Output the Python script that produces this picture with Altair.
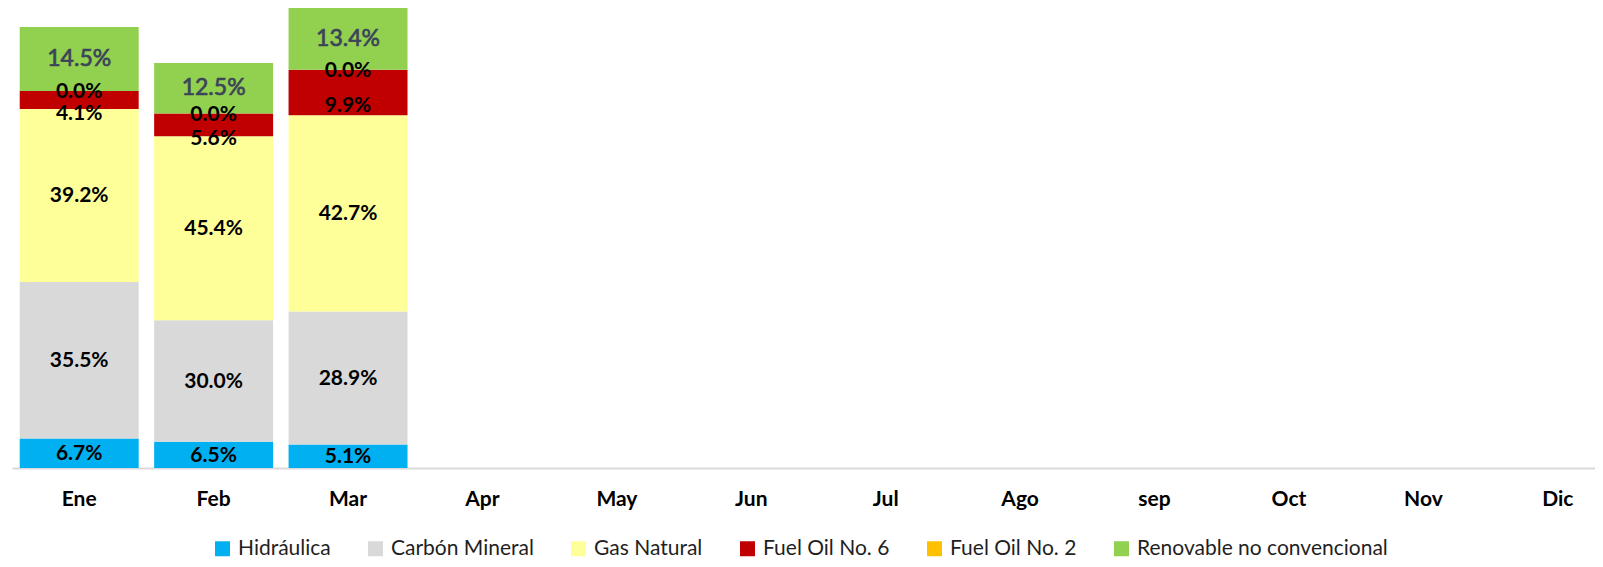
import altair as alt
import pandas as pd

# ---------------- data ----------------
months = ["Ene", "Feb", "Mar", "Apr", "May", "Jun", "Jul", "Ago", "sep", "Oct", "Nov", "Dic"]
data_months = ["Ene", "Feb", "Mar"]

series = ["Hidráulica", "Carbón Mineral", "Gas Natural",
          "Fuel Oil No. 6", "Fuel Oil No. 2", "Renovable no convencional"]
colors = ["#00B0F0", "#D9D9D9", "#FFFF99", "#C00000", "#FFC000", "#92D050"]

# estimated generation (bar segment sizes, arbitrary units)
hidraulica = [29.5, 26.3, 23.5]
carbon = [156.6, 121.5, 132.9]
gas = [172.9, 183.9, 196.4]
fuel6 = [18.1, 22.7, 45.5]
fuel2 = [0.0, 0.0, 0.0]
renovable = [63.9, 50.6, 61.6]

# percentage labels shown on the segments
pct_hidraulica = [6.7, 6.5, 5.1]
pct_carbon = [35.5, 30.0, 28.9]
pct_gas = [39.2, 45.4, 42.7]
pct_fuel6 = [4.1, 5.6, 9.9]
pct_fuel2 = [0.0, 0.0, 0.0]
pct_renovable = [14.5, 12.5, 13.4]

values = [hidraulica, carbon, gas, fuel6, fuel2, renovable]
pcts = [pct_hidraulica, pct_carbon, pct_gas, pct_fuel6, pct_fuel2, pct_renovable]

rows = []
for si, s in enumerate(series):
    for mi, m in enumerate(data_months):
        rows.append({"month": m, "serie": s, "order": si,
                     "value": values[si][mi], "pct": pcts[si][mi]})
df = pd.DataFrame(rows)

FONT = "Lato"

x_enc = alt.X("month:N",
              scale=alt.Scale(domain=months, range=[0, 1613],
                              paddingInner=0.115, paddingOuter=0.0575),
              axis=alt.Axis(title=None, labelAngle=0, ticks=False, tickSize=0,
                            labelPadding=20, labelFont=FONT, labelFontSize=21,
                            labelFontWeight="bold", labelColor="#000000",
                            domainColor="#D9D9D9", domainWidth=2,
                            grid=False))
y_scale = alt.Scale(domain=[0, 460], nice=False, zero=True)

base = alt.Chart(df).transform_stack(
    stack="value", groupby=["month"], as_=["y0", "y1"],
    sort=[alt.SortField("order", order="ascending")]
).transform_calculate(
    mid="(datum.y0 + datum.y1) / 2",
    lbl="format(datum.pct, '.1f') + '%'"
)

bars = base.mark_bar().encode(
    x=x_enc,
    y=alt.Y("y0:Q", scale=y_scale, axis=None),
    y2="y1:Q",
    color=alt.Color("serie:N",
                    scale=alt.Scale(domain=series, range=colors),
                    legend=alt.Legend(title=None, orient="none",
                                      legendX=200, legendY=530,
                                      direction="horizontal", columns=6,
                                      symbolType="square", symbolSize=225,
                                      symbolStrokeWidth=0, symbolOpacity=1,
                                      labelFont=FONT, labelFontSize=21,
                                      labelColor="#1F1F1F", labelOffset=5,
                                      labelLimit=600,
                                      columnPadding=34)),
)

text_main = base.transform_filter(
    alt.FieldOneOfPredicate(field="serie",
                            oneOf=["Hidráulica", "Carbón Mineral", "Gas Natural", "Fuel Oil No. 2"])
).mark_text(font=FONT, fontSize=21, fontWeight="bold", color="#000000",
            baseline="middle", dy=1).encode(
    x=alt.X("month:N", scale=alt.Scale(domain=months)),
    y=alt.Y("mid:Q", scale=y_scale),
    text="lbl:N",
)

text_fo6 = base.transform_filter(
    alt.datum.serie == "Fuel Oil No. 6"
).mark_text(font=FONT, fontSize=21, fontWeight="bold", color="#000000",
            baseline="middle", dy=14).encode(
    x=alt.X("month:N", scale=alt.Scale(domain=months)),
    y=alt.Y("mid:Q", scale=y_scale),
    text="lbl:N",
)

text_ren = base.transform_filter(
    alt.datum.serie == "Renovable no convencional"
).mark_text(font=FONT, fontSize=23, color="#3C4459", stroke="#3C4459",
            strokeWidth=0.7, baseline="middle", dy=0).encode(
    x=alt.X("month:N", scale=alt.Scale(domain=months)),
    y=alt.Y("mid:Q", scale=y_scale),
    text="lbl:N",
)

chart = alt.layer(bars, text_main, text_fo6, text_ren).properties(
    width=1583, height=460,
    autosize=alt.AutoSizeParams(type="none"),
    padding={"left": 4, "top": 0, "right": 0, "bottom": 91},
    background="white",
).configure_view(stroke=None)

chart.save("out.html", embed_options={"renderer": "svg", "actions": False})
